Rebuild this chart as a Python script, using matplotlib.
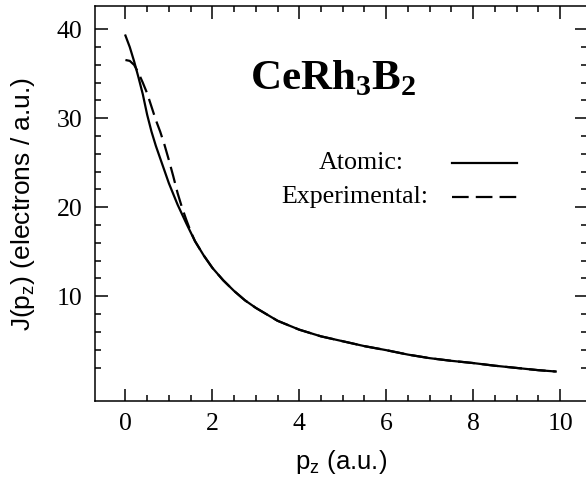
import numpy as np
import matplotlib
matplotlib.use("Agg")
import matplotlib.pyplot as plt
from matplotlib.ticker import FixedLocator

# values
pz_atomic = [0, 0.1, 0.2, 0.3, 0.4, 0.5, 0.6, 0.7, 0.8, 0.9, 1.0, 1.2, 1.4, 1.6,
             1.8, 2.0, 2.25, 2.5, 2.75, 3.0, 3.5, 4.0, 4.5, 5.0, 5.5, 6.0, 6.5,
             7.0, 7.5, 8.0, 8.5, 9.0, 9.5, 9.9]
j_atomic = [39.3, 38.0, 36.4, 34.6, 32.7, 30.4, 28.5, 26.9, 25.5, 24.1, 22.7,
            20.3, 18.2, 16.2, 14.6, 13.2, 11.8, 10.6, 9.55, 8.7, 7.25, 6.25,
            5.5, 4.95, 4.4, 3.95, 3.45, 3.05, 2.75, 2.5, 2.2, 1.95, 1.7, 1.55]

pz_exp = [0, 0.1, 0.2, 0.3, 0.4, 0.5, 0.6, 0.7, 0.8, 0.9, 1.0, 1.1, 1.2, 1.3,
          1.4, 1.5, 1.6, 1.8, 2.0, 2.25, 2.5, 2.75, 3.0, 3.5, 4.0, 4.5, 5.0,
          5.5, 6.0, 6.5, 7.0, 7.5, 8.0, 8.5, 9.0, 9.5, 9.9]
j_exp = [36.55, 36.45, 36.0, 35.1, 34.0, 32.8, 31.3, 29.8, 28.5, 27.0, 25.3,
         23.5, 21.6, 20.0, 18.6, 17.3, 16.2, 14.6, 13.2, 11.8, 10.6, 9.55, 8.7,
         7.25, 6.25, 5.5, 4.95, 4.4, 3.95, 3.45, 3.05, 2.75, 2.5, 2.2, 1.95,
         1.7, 1.55]

x_major = [0, 2, 4, 6, 8, 10]
x_minor = [v / 2 for v in range(1, 20) if v % 4 != 0]
y_major = [10, 20, 30, 40]
y_minor = [v for v in range(2, 40, 2) if v % 10 != 0]

serif = "Liberation Serif"
sans = "Liberation Sans"

fig = plt.figure(figsize=(5.86, 4.78), dpi=100)
ax = fig.add_axes([95 / 586, 1 - 400.7 / 478, 492 / 586, 395 / 478])

ax.plot(pz_atomic, j_atomic, color="black", lw=1.6)
ax.plot(pz_exp, j_exp, color="black", lw=1.6, dashes=(7.5, 3.2))

ax.set_xlim(-0.7, 10.62)
ax.set_ylim(-1.73, 42.65)

ax.xaxis.set_major_locator(FixedLocator(x_major))
ax.xaxis.set_minor_locator(FixedLocator(x_minor))
ax.yaxis.set_major_locator(FixedLocator(y_major))
ax.yaxis.set_minor_locator(FixedLocator(y_minor))

ax.tick_params(which="both", direction="in", top=True, right=True, width=1.1)
ax.tick_params(which="major", length=9, labelsize=18.5, pad=9)
ax.tick_params(which="minor", length=4.5)
for lab in ax.get_xticklabels() + ax.get_yticklabels():
    lab.set_family(serif)
for sp in ax.spines.values():
    sp.set_linewidth(1.1)
ax.spines["right"].set_visible(False)  # sits just past the picture edge

ax.set_xlabel(r"p$_\mathregular{z}$ (a.u.)", family=sans, fontsize=18.5)
ax.set_ylabel(r"J(p$_\mathregular{z}$) (electrons / a.u.)", family=sans, fontsize=19)
ax.xaxis.label.set_va("center")
ax.yaxis.label.set_va("center")
ax.xaxis.set_label_coords(0.5, -0.155)
ax.yaxis.set_label_coords(-0.146, 0.498)

ax.text(0.315, 0.817, r"CeRh$_\mathregular{3}$B$_\mathregular{2}$", transform=ax.transAxes,
        family=serif, weight="bold", fontsize=31, va="center", ha="left")

# hand-made legend
ax.text(0.455, 0.602, "Atomic:", transform=ax.transAxes, family=serif,
        fontsize=18.7, va="center", ha="left")
ax.text(0.378, 0.516, "Experimental:", transform=ax.transAxes, family=serif,
        fontsize=18.7, va="center", ha="left")
ax.plot([0.7256, 0.8577], [0.602, 0.602], transform=ax.transAxes,
        color="black", lw=1.6)
ax.plot([0.7256, 0.8577], [0.516, 0.516], transform=ax.transAxes,
        color="black", lw=1.6, dashes=(7.5, 3.2))

fig.savefig("out.png", dpi=100)
